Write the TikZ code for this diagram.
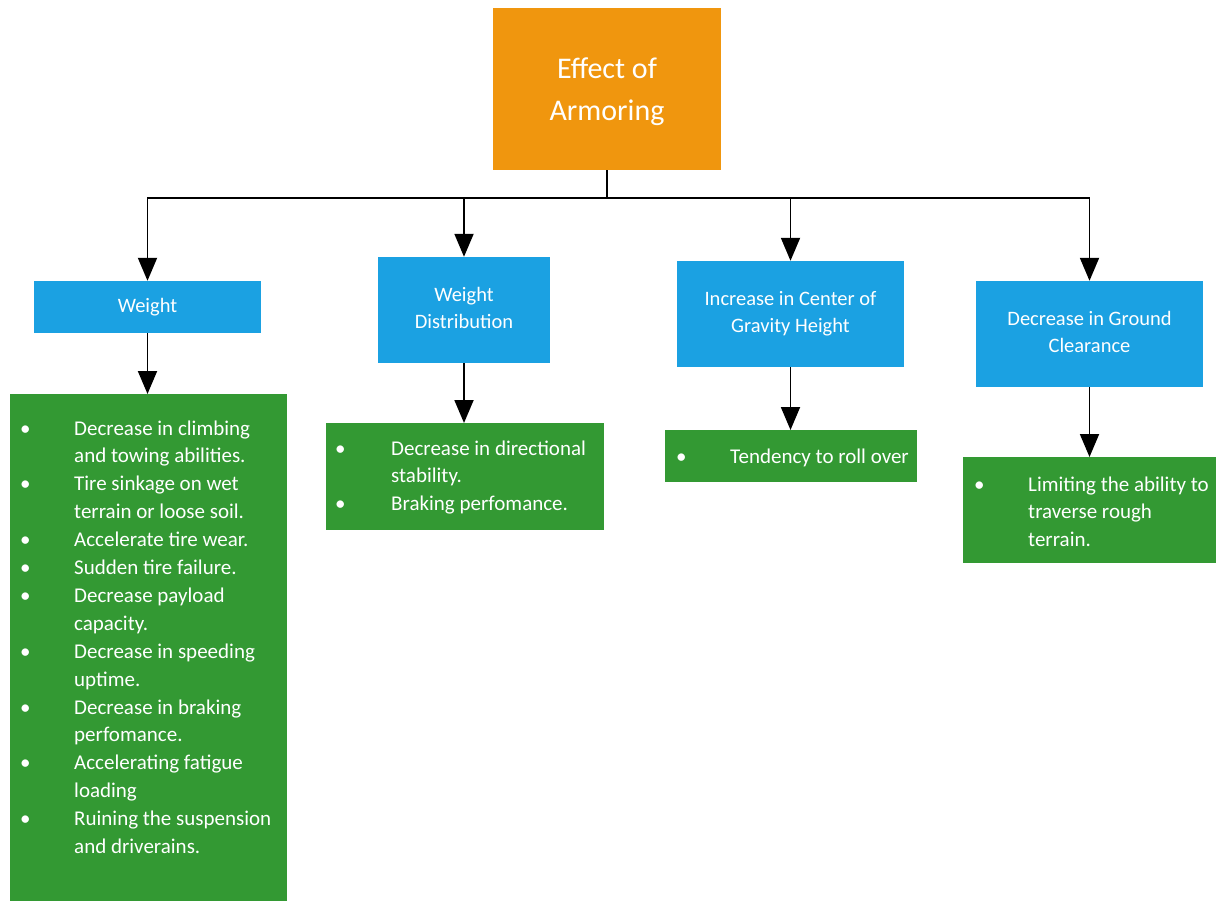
\documentclass[tikz,border=0pt]{standalone}
\usepackage{fontspec}
\setmainfont{Carlito}
\usetikzlibrary{arrows.meta,calc}
\definecolor{orangebox}{HTML}{F0960E}
\definecolor{bluebox}{HTML}{1BA1E2}
\definecolor{greenbox}{HTML}{339933}
\tikzset{
  topbox/.style={fill=orangebox, draw=none, text=white, align=center, inner sep=0pt,
    font=\fontsize{30}{42}\selectfont},
  catbox/.style={fill=bluebox, draw=none, text=white, align=center, inner sep=0pt,
    font=\fontsize{20.5}{27}\selectfont},
  listbox/.style={fill=greenbox, draw=none, inner sep=0pt, anchor=north west},
  listtext/.style={text=white, inner sep=0pt, anchor=base west,
    font=\fontsize{21}{27.9}\selectfont},
  arr/.style={line width=1.9pt, -{Triangle[width=19pt,length=23pt]}},
  bus/.style={line width=1.9pt}
}
\newcommand{\bl}{\textbullet}
\begin{document}
\begin{tikzpicture}[x=1pt,y=-1pt]
\useasboundingbox (0,0) rectangle (1217,901);

% top node
\node[topbox, minimum width=228, minimum height=162] (top) at (607,89) {};
\node[topbox, fill=none] (toptext) at (607,92) {Effect of\\Armoring};

% category nodes
\node[catbox, minimum width=227, minimum height=52] (w) at (147.5,307) {\raisebox{-2pt}{Weight}};
\node[catbox, minimum width=172, minimum height=106] (wd) at (464,310) {\raisebox{-2pt}{\begin{tabular}{@{}c@{}}Weight\\Distribution\end{tabular}}};
\node[catbox, minimum width=227, minimum height=106] (cg) at (790.5,314) {\raisebox{-2pt}{\begin{tabular}{@{}c@{}}Increase in Center of\\Gravity Height\end{tabular}}};
\node[catbox, minimum width=227, minimum height=106] (gc) at (1089.5,334) {\raisebox{-2pt}{\begin{tabular}{@{}c@{}}Decrease in Ground\\Clearance\end{tabular}}};

% list boxes
\node[listbox, minimum width=277, minimum height=507] (l1) at (10,394) {};
\node[listbox, minimum width=278, minimum height=107] (l2) at (326,423) {};
\node[listbox, minimum width=252, minimum height=52] (l3) at (665,430) {};
\node[listbox, minimum width=253, minimum height=106] (l4) at (963,457) {};

% list texts
\node[listtext] (t1) at ($(l1.north west)+(10,41)$) {%
\begin{tabular}[t]{@{}p{54pt}@{}l@{}}
\bl & Decrease in climbing\\
    & and towing abilities.\\
\bl & Tire sinkage on wet\\
    & terrain or loose soil.\\
\bl & Accelerate tire wear.\\
\bl & Sudden tire failure.\\
\bl & Decrease payload\\
    & capacity.\\
\bl & Decrease in speeding\\
    & uptime.\\
\bl & Decrease in braking\\
    & perfomance.\\
\bl & Accelerating fatigue\\
    & loading\\
\bl & Ruining the suspension\\
    & and driverains.
\end{tabular}};

\node[listtext] (t2) at ($(l2.north west)+(9,32)$) {%
\begin{tabular}[t]{@{}p{56pt}@{}l@{}}
\bl & Decrease in directional\\
    & stability.\\
\bl & Braking perfomance.
\end{tabular}};

\node[listtext] (t3) at ($(l3.north west)+(11,33)$) {%
\begin{tabular}[t]{@{}p{54pt}@{}l@{}}
\bl & Tendency to roll over
\end{tabular}};

\node[listtext] (t4) at ($(l4.north west)+(11,34)$) {%
\begin{tabular}[t]{@{}p{54pt}@{}l@{}}
\bl & Limiting the ability to\\
    & traverse rough\\
    & terrain.
\end{tabular}};

% connectors
\coordinate (busc) at (607,198);
\draw[bus] (top.south) -- (busc);
\draw[arr] (busc) -| (w.north);
\draw[arr] (busc) -| (wd.north);
\draw[arr] (busc) -| (cg.north);
\draw[arr] (busc) -| (gc.north);

\draw[arr] (w.south) -- (w.south |- l1.north);
\draw[arr] (wd.south) -- (wd.south |- l2.north);
\draw[arr] (cg.south) -- (cg.south |- l3.north);
\draw[arr] (gc.south) -- (gc.south |- l4.north);
\end{tikzpicture}
\end{document}
